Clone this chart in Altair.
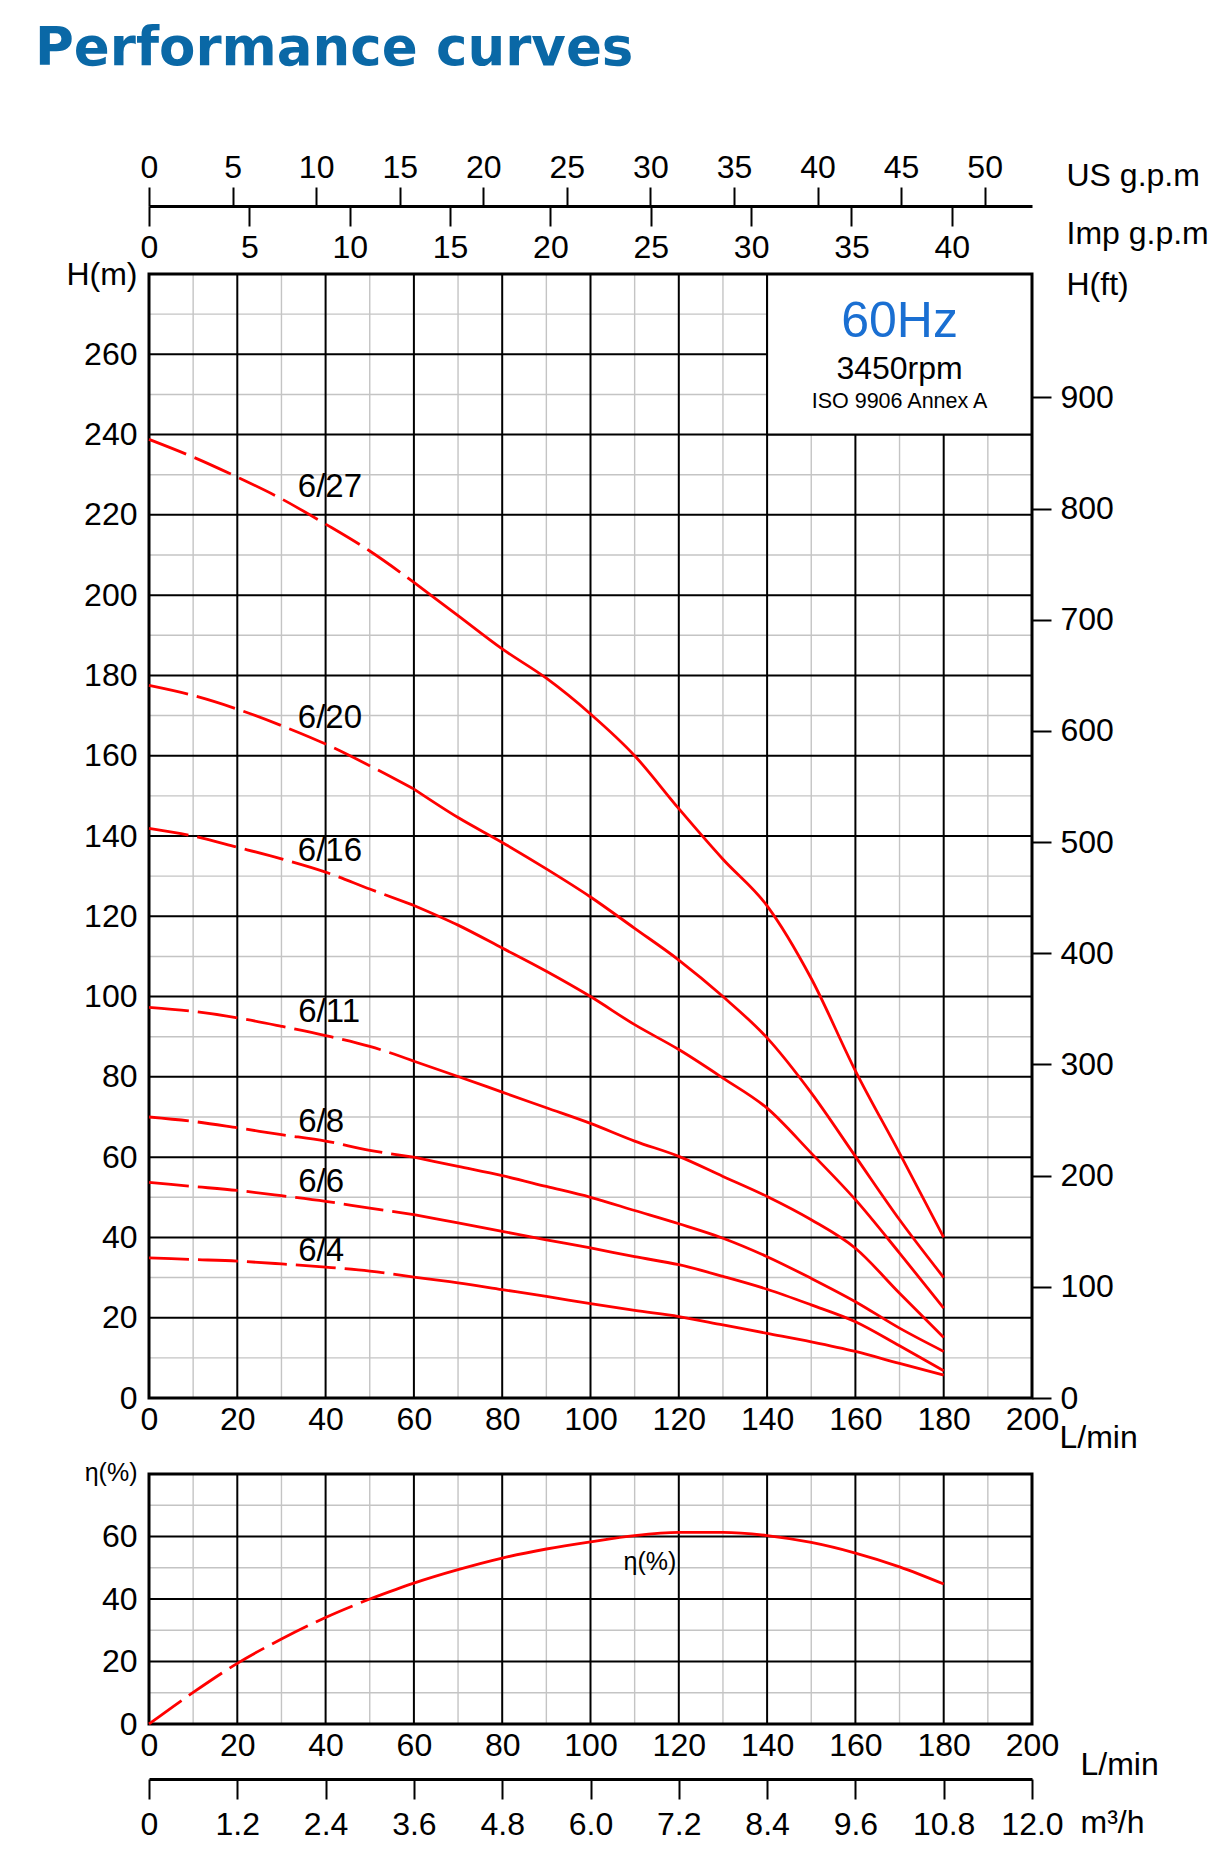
import altair as alt
import pandas as pd

FONT = "Liberation Sans, Arial, Helvetica, sans-serif"
TITLE_FONT = "DejaVu Sans, Liberation Sans, sans-serif"

# ---------------- data ----------------
FLOW = [0, 10, 20, 30, 40, 50, 60, 70, 80, 90, 100, 110, 120, 130, 140, 150, 160, 170, 180]
SERIES = ["6/27", "6/20", "6/16", "6/11", "6/8", "6/6", "6/4"]
H_6_27 = [238.8, 234.4, 229.4, 224.0, 217.7, 211.0, 203.2, 194.9, 186.6, 179.3, 170.4, 160.0, 146.8, 134.2, 122.6, 104.5, 81.5, 61.0, 40.0]
H_6_20 = [177.5, 175.0, 171.6, 167.5, 162.9, 157.5, 151.7, 144.6, 138.4, 131.8, 124.8, 117.0, 109.1, 100.0, 89.7, 76.0, 60.2, 44.4, 30.0]
H_6_16 = [141.9, 140.0, 137.2, 134.3, 131.0, 126.8, 122.7, 117.8, 112.1, 106.3, 100.0, 93.0, 86.8, 79.7, 72.2, 61.0, 49.4, 36.1, 22.4]
H_6_11 = [97.3, 96.3, 94.7, 92.6, 90.3, 87.6, 83.9, 80.1, 76.2, 72.3, 68.4, 64.0, 60.2, 55.2, 50.2, 44.4, 37.3, 26.1, 15.1]
H_6_8 = [70.0, 68.9, 67.3, 65.6, 64.0, 61.7, 60.0, 57.7, 55.4, 52.7, 50.0, 46.7, 43.4, 39.8, 35.2, 29.8, 24.0, 17.4, 11.6]
H_6_6 = [53.7, 52.7, 51.7, 50.4, 49.0, 47.3, 45.7, 43.6, 41.5, 39.4, 37.4, 35.2, 33.2, 30.3, 27.1, 23.2, 19.0, 13.0, 6.8]
H_6_4 = [34.9, 34.5, 34.1, 33.4, 32.6, 31.6, 30.1, 28.7, 27.0, 25.3, 23.5, 21.8, 20.3, 18.2, 16.1, 14.0, 11.6, 8.6, 5.7]
HEADS = [H_6_27, H_6_20, H_6_16, H_6_11, H_6_8, H_6_6, H_6_4]
DASH_END = 60

LABEL_FLOW = [33.7, 33.7, 33.7, 33.8, 33.8, 33.8, 33.8]
LABEL_HEAD = [226.9, 169.3, 136.2, 96.1, 68.7, 53.7, 36.7]

ETA = [0.0, 10.1, 19.4, 27.2, 34.1, 40.0, 45.1, 49.4, 53.1, 56.0, 58.3, 60.3, 61.3, 61.3, 60.3, 58.1, 54.7, 50.3, 44.8]
ETA_DASH_END = 50
ETA_LABEL = ["η(%)"]
ETA_LABEL_FLOW = [107.5]
ETA_LABEL_VAL = [51.8]

H_TICKS = list(range(0, 261, 20))
FT_TICKS = list(range(0, 901, 100))
FLOW_TICKS = list(range(0, 201, 20))
US_GPM_TICKS = list(range(0, 51, 5))
IMP_GPM_TICKS = list(range(0, 41, 5))
M3H_TICKS = [0, 1.2, 2.4, 3.6, 4.8, 6.0, 7.2, 8.4, 9.6, 10.8, 12.0]
ETA_TICKS = [0, 20, 40, 60]

GRID_X_MAJOR = list(range(20, 181, 20))
GRID_X_MINOR = list(range(10, 191, 20))
GRID_H_MAJOR = list(range(20, 261, 20))
GRID_H_MINOR = list(range(10, 271, 20))
GRID_ETA_MAJOR = [20, 40, 60]
GRID_ETA_MINOR = [10, 30, 50, 70]

BOX_FLOW = [140]
BOX_FLOW2 = [200]
BOX_HEAD = [240]
BOX_HEAD2 = [280]
BOX_LINES = ["60Hz", "3450rpm", "ISO 9906 Annex A"]
BOX_LINE_HEAD = [264.3, 253.8, 246.5]
BOX_CENTER_FLOW = 170

FLOW_MAX = 200
H_MAX = 280
FT_MAX = 1011
US_GPM_MAX = 52.834
IMP_GPM_MAX = 43.994
M3H_MAX = 12.0
ETA_MAX = 80

# ---------------- layout (pixels) ----------------
W = 883
H_PANEL = 1124      # head panel height
GAP = 76            # gap between panels
E_PANEL = 250       # efficiency panel height
TOTAL_H = H_PANEL + GAP + E_PANEL
TICK_FS = 32

# ---------------- frames ----------------
rows = []
for name, vals in zip(SERIES, HEADS):
    for q, h in zip(FLOW, vals):
        rows.append({"series": name, "flow": q, "head": h})
curves = pd.DataFrame(rows)
dashed = curves[curves["flow"] <= DASH_END]
solid = curves[curves["flow"] >= DASH_END]

eta_df = pd.DataFrame({"flow": FLOW, "eta": ETA})
eta_dashed = eta_df[eta_df["flow"] <= ETA_DASH_END]
eta_solid = eta_df[eta_df["flow"] >= ETA_DASH_END]

RED = "#ff0000"
GRAY = "#c4c4c4"


def xs(axis=None, field="flow"):
    return alt.X(f"{field}:Q", scale=alt.Scale(domain=[0, FLOW_MAX], nice=False, zero=False), axis=axis)


def ys(axis=None, field="head"):
    return alt.Y(f"{field}:Q", scale=alt.Scale(domain=[0, H_MAX], range=[H_PANEL, 0], nice=False, zero=False), axis=axis)


def es(axis=None, field="eta"):
    return alt.Y(f"{field}:Q", scale=alt.Scale(domain=[0, ETA_MAX], range=[TOTAL_H, TOTAL_H - E_PANEL], nice=False, zero=False), axis=axis)


def vgrid(vals, lo, hi, color, width, yenc):
    df = pd.DataFrame({"flow": vals, "lo": [lo] * len(vals), "hi": [hi] * len(vals)})
    return alt.Chart(df).mark_rule(color=color, strokeWidth=width).encode(
        x=xs(), y=yenc(field="lo"), y2="hi:Q"
    )


def hgrid(vals, color, width, yenc):
    df = pd.DataFrame({"v": vals, "a": [0] * len(vals), "b": [FLOW_MAX] * len(vals)})
    return alt.Chart(df).mark_rule(color=color, strokeWidth=width).encode(
        y=yenc(field="v"), x=xs(field="a"), x2="b:Q"
    )


def frame(yenc, top):
    df = pd.DataFrame({"a": [0], "b": [FLOW_MAX], "lo": [0], "hi": [top]})
    return alt.Chart(df).mark_rect(fillOpacity=0, stroke="black", strokeWidth=3).encode(
        x=xs(field="a"), x2="b:Q", y=yenc(field="lo"), y2="hi:Q"
    )


# ---------------- head panel ----------------
box = alt.Chart(pd.DataFrame({"flow": BOX_FLOW, "flow2": BOX_FLOW2, "head": BOX_HEAD, "head2": BOX_HEAD2})).mark_rect(
    fill="white", stroke="black", strokeWidth=2
).encode(x=xs(), x2="flow2:Q", y=ys(), y2="head2:Q")

box_df = pd.DataFrame({"txt": BOX_LINES, "head": BOX_LINE_HEAD, "flow": [BOX_CENTER_FLOW] * 3})
box_t1 = alt.Chart(box_df.iloc[[0]]).mark_text(font=FONT, fontSize=50, color="#1a6fd2", align="center", baseline="alphabetic").encode(x=xs(), y=ys(), text="txt:N")
box_t2 = alt.Chart(box_df.iloc[[1]]).mark_text(font=FONT, fontSize=32, color="black", align="center", baseline="alphabetic").encode(x=xs(), y=ys(), text="txt:N")
box_t3 = alt.Chart(box_df.iloc[[2]]).mark_text(font=FONT, fontSize=21.5, color="black", align="center", baseline="alphabetic").encode(x=xs(), y=ys(), text="txt:N")

dash_line = alt.Chart(dashed).mark_line(color=RED, strokeWidth=2.8, interpolate="monotone", strokeDash=[40, 9]).encode(
    x=xs(), y=ys(), detail="series:N"
)
solid_line = alt.Chart(solid).mark_line(color=RED, strokeWidth=2.8, interpolate="monotone").encode(
    x=xs(alt.Axis(values=FLOW_TICKS, orient="bottom", offset=-(GAP + E_PANEL), ticks=False, domain=False, labelPadding=6,
                  title="L/min", titleX=910, titleY=49, titleAlign="left", titleBaseline="alphabetic", titleAngle=0)),
    y=ys(alt.Axis(values=H_TICKS, orient="left", ticks=False, domain=False, labelPadding=12,
                  title="H(m)", titleX=-12, titleY=0, titleAlign="right", titleBaseline="middle", titleAngle=0)),
    detail="series:N",
)
labels = alt.Chart(pd.DataFrame({"series": SERIES, "flow": LABEL_FLOW, "head": LABEL_HEAD})).mark_text(
    font=FONT, fontSize=33, color="black", align="left", baseline="middle"
).encode(x=xs(), y=ys(), text="series:N")

ft_layer = alt.Chart(pd.DataFrame({"ft": FT_TICKS})).mark_point(opacity=0).encode(
    y=alt.Y("ft:Q", scale=alt.Scale(domain=[0, FT_MAX], range=[H_PANEL, 0], nice=False, zero=False),
            axis=alt.Axis(values=FT_TICKS, orient="right", tickSize=19, tickWidth=2, domain=False, labelPadding=9,
                          title="H(ft)", titleX=34, titleY=10, titleAlign="left", titleBaseline="middle", titleAngle=0))
)
us_layer = alt.Chart(pd.DataFrame({"usgpm": US_GPM_TICKS})).mark_point(opacity=0).encode(
    x=alt.X("usgpm:Q", scale=alt.Scale(domain=[0, US_GPM_MAX], nice=False, zero=False),
            axis=alt.Axis(values=US_GPM_TICKS, orient="top", offset=68, tickSize=19, tickWidth=2, domain=True,
                          domainWidth=3, labelPadding=3, title="US g.p.m", titleX=917, titleY=-21,
                          titleAlign="left", titleBaseline="alphabetic", titleAngle=0)),
    y=ys(field="usgpm"),
)
imp_layer = alt.Chart(pd.DataFrame({"impgpm": IMP_GPM_TICKS})).mark_point(opacity=0).encode(
    x=alt.X("impgpm:Q", scale=alt.Scale(domain=[0, IMP_GPM_MAX], nice=False, zero=False),
            axis=alt.Axis(values=IMP_GPM_TICKS, orient="bottom", offset=-(TOTAL_H + 68), tickSize=20, tickWidth=2,
                          domain=False, labelPadding=6, title="Imp g.p.m", titleX=917, titleY=37,
                          titleAlign="left", titleBaseline="alphabetic", titleAngle=0)),
    y=ys(field="impgpm"),
)

# ---------------- efficiency panel ----------------
eta_dash = alt.Chart(eta_dashed).mark_line(color=RED, strokeWidth=2.8, interpolate="monotone", strokeDash=[40, 9]).encode(x=xs(), y=es())
eta_solid_line = alt.Chart(eta_solid).mark_line(color=RED, strokeWidth=2.8, interpolate="monotone").encode(
    x=xs(alt.Axis(values=FLOW_TICKS, orient="bottom", ticks=False, domain=False, labelPadding=6,
                  title="L/min", titleX=931, titleY=50, titleAlign="left", titleBaseline="alphabetic", titleAngle=0)),
    y=es(alt.Axis(values=ETA_TICKS, orient="left", ticks=False, domain=False, labelPadding=12,
                  title="η(%)", titleFontSize=25, titleX=-12, titleY=TOTAL_H - E_PANEL - 2, titleAlign="right",
                  titleBaseline="middle", titleAngle=0)),
)
eta_label = alt.Chart(pd.DataFrame({"txt": ETA_LABEL, "flow": ETA_LABEL_FLOW, "eta": ETA_LABEL_VAL})).mark_text(
    font=FONT, fontSize=25, color="black", align="left", baseline="middle"
).encode(x=xs(), y=es(), text="txt:N")

m3h_layer = alt.Chart(pd.DataFrame({"m3h": M3H_TICKS})).mark_point(opacity=0).encode(
    x=alt.X("m3h:Q", scale=alt.Scale(domain=[0, M3H_MAX], nice=False, zero=False),
            axis=alt.Axis(values=M3H_TICKS, orient="bottom", offset=55, tickSize=20, tickWidth=2, domain=True,
                          domainWidth=3, labelPadding=10,
                          labelExpr="datum.value == 0 ? '0' : format(datum.value, '.1f')",
                          title="m³/h", titleX=931, titleY=53, titleAlign="left",
                          titleBaseline="alphabetic", titleAngle=0)),
    y=es(field="m3h"),
)

chart = alt.layer(
    vgrid(GRID_X_MINOR, 0, H_MAX, GRAY, 1.4, ys), hgrid(GRID_H_MINOR, GRAY, 1.4, ys),
    vgrid(GRID_X_MAJOR, 0, H_MAX, "black", 2, ys), hgrid(GRID_H_MAJOR, "black", 2, ys),
    box, box_t1, box_t2, box_t3, frame(ys, H_MAX),
    dash_line, solid_line, labels,
    vgrid(GRID_X_MINOR, 0, ETA_MAX, GRAY, 1.4, es), hgrid(GRID_ETA_MINOR, GRAY, 1.4, es),
    vgrid(GRID_X_MAJOR, 0, ETA_MAX, "black", 2, es), hgrid(GRID_ETA_MAJOR, "black", 2, es),
    frame(es, ETA_MAX),
    eta_dash, eta_solid_line, eta_label,
    ft_layer, us_layer, imp_layer, m3h_layer,
).resolve_scale(x="independent", y="independent").properties(
    width=W, height=TOTAL_H,
    title=alt.TitleParams(
        text="Performance curves", anchor="start", frame="group", dx=-114, offset=33,
        font=TITLE_FONT, fontSize=53, fontWeight="bold", color="#0a68a6", baseline="alphabetic",
    ),
    padding={"left": 27, "top": 15, "right": 5, "bottom": 5},
).configure_view(strokeWidth=0).configure_axis(
    labelFont=FONT, titleFont=FONT, labelFontSize=TICK_FS, titleFontSize=TICK_FS, titleFontWeight="normal",
    labelColor="black", titleColor="black", tickColor="black", domainColor="black",
    labelFlush=False, labelOverlap=False, grid=False,
)

chart.save("out.html", embed_options={"renderer": "svg", "actions": False})
